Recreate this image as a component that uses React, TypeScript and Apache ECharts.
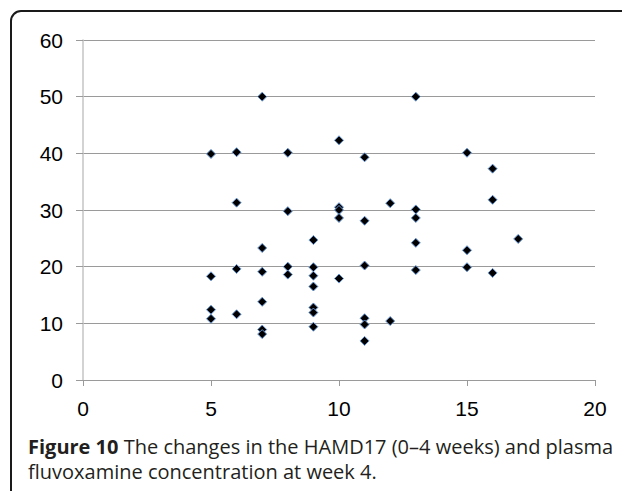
import React, { useEffect, useRef } from "react";
import * as echarts from "echarts";

const xValues = [
  5, 5, 5, 5,
  6, 6, 6, 6,
  7, 7, 7, 7, 7, 7,
  8, 8, 8, 8,
  9, 9, 9, 9, 9, 9, 9,
  10, 10, 10, 10, 10,
  11, 11, 11, 11, 11, 11,
  12, 12,
  13, 13, 13, 13, 13,
  15, 15, 15,
  16, 16, 16,
  17,
];
const yValues = [
  39.9, 18.3, 12.4, 10.8,
  40.2, 31.3, 19.6, 11.6,
  50.0, 23.3, 19.1, 13.8, 8.9, 8.1,
  40.1, 29.8, 20.0, 18.6,
  24.7, 19.9, 18.4, 16.5, 12.8, 11.9, 9.4,
  42.3, 30.5, 30.0, 28.6, 17.9,
  39.3, 28.1, 20.2, 10.9, 9.8, 6.9,
  31.2, 10.4,
  50.0, 30.1, 28.6, 24.2, 19.4,
  40.1, 22.9, 19.9,
  37.3, 31.8, 18.9,
  24.9,
];
const yTicks = { min: 0, max: 60, interval: 10 };
const xTicks = { min: 0, max: 20, interval: 5 };
const captionBold = "Figure 10";
const captionLine1 = " The changes in the HAMD17 (0–4 weeks) and plasma";
const captionLine2 = "fluvoxamine concentration at week 4.";

export default function App() {
  const ref = useRef<HTMLDivElement>(null);
  useEffect(() => {
    if (!ref.current) return;
    const chart = echarts.init(ref.current, undefined, { renderer: "svg" });
    const points = xValues.map((x, i) => [x, yValues[i]]);
    chart.setOption({
      animation: false,
      backgroundColor: "#ffffff",
      grid: { left: 83, right: 27, top: 40, bottom: 111, containLabel: false },
      xAxis: {
        type: "value",
        min: xTicks.min,
        max: xTicks.max,
        interval: xTicks.interval,
        axisLine: { show: true, lineStyle: { color: "#9a9a9a", width: 1 } },
        axisTick: { show: true, length: 6, lineStyle: { color: "#9a9a9a" } },
        splitLine: { show: false },
        axisLabel: {
          margin: 18,
          color: "#000",
          fontSize: 21,
          fontFamily: "Liberation Sans, Arial, sans-serif",
        },
      },
      yAxis: {
        type: "value",
        min: yTicks.min,
        max: yTicks.max,
        interval: yTicks.interval,
        axisLine: { show: true, lineStyle: { color: "#c4c4c4", width: 1.5 } },
        axisTick: { show: true, length: 7, lineStyle: { color: "#9a9a9a" } },
        splitLine: { show: true, lineStyle: { color: "#9a9a9a", width: 1 } },
        axisLabel: {
          margin: 20,
          color: "#000",
          fontSize: 21,
          fontFamily: "Liberation Sans, Arial, sans-serif",
        },
      },
      series: [
        {
          type: "scatter",
          data: points,
          symbol: "diamond",
          symbolSize: 9,
          itemStyle: { color: "#000000", borderColor: "#6a9ad8", borderWidth: 1, opacity: 1 },
        },
      ],
      graphic: [
        {
          type: "rect",
          shape: { x: 11, y: 11, width: 800, height: 800, r: 10 },
          style: { fill: "none", stroke: "#1a1a1a", lineWidth: 2 },
          silent: true,
        },
        {
          type: "text",
          left: 28,
          top: 436,
          style: {
            text: "{b|" + captionBold + "}{n|" + captionLine1 + "}\n{n|" + captionLine2 + "}",
            rich: {
              b: { fontWeight: "bold", fontSize: 20, fontFamily: "Open Sans", fill: "#231f20", lineHeight: 25 },
              n: { fontSize: 20, fontFamily: "Open Sans", fill: "#231f20", lineHeight: 25 },
            },
          },
        },
      ],
    });
    return () => chart.dispose();
  }, []);
  return (
    <div
      ref={ref}
      style={{ position: "absolute", left: 0, top: 0, width: 622, height: 491 }}
    />
  );
}
